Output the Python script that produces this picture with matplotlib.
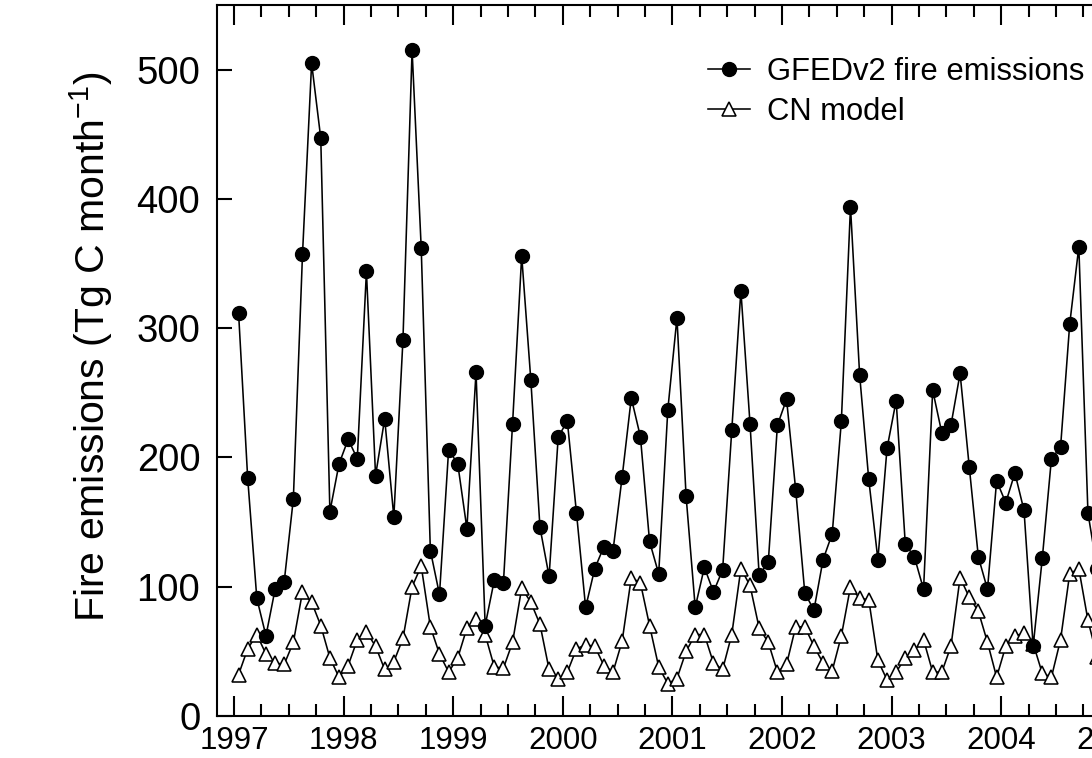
import numpy as np
import matplotlib
matplotlib.use("Agg")
import matplotlib.pyplot as plt
from matplotlib.ticker import MultipleLocator, FixedLocator

plt.rcParams['font.family'] = ['Liberation Sans', 'DejaVu Sans']
plt.rcParams['mathtext.fontset'] = 'custom'
plt.rcParams['mathtext.rm'] = 'Liberation Sans'

# Monthly values, Jan 1997 .. Nov 2004 (Tg C / month)
gfed = [
    312, 184, 91, 62, 98, 104, 168, 357, 505, 447, 158, 195,   # 1997
    214, 199, 344, 186, 230, 154, 291, 515, 362, 128, 94, 206,  # 1998
    195, 145, 266, 70, 105, 103, 226, 356, 260, 146, 108, 216,  # 1999
    228, 157, 84, 114, 131, 128, 185, 246, 216, 135, 110, 237,  # 2000
    308, 170, 84, 115, 96, 113, 221, 329, 226, 109, 119, 225,   # 2001
    245, 175, 95, 82, 121, 141, 228, 394, 264, 183, 121, 207,   # 2002
    244, 133, 123, 98, 252, 219, 225, 265, 193, 123, 98, 182,   # 2003
    165, 188, 159, 54, 122, 199, 208, 303, 363, 157, 114,       # 2004
]
cn_model = [
    32, 52, 63, 48, 41, 40, 57, 96, 88, 70, 45, 30,     # 1997
    39, 59, 65, 54, 36, 42, 60, 100, 116, 69, 48, 34,   # 1998
    45, 68, 75, 63, 38, 37, 57, 99, 88, 71, 36, 29,     # 1999
    34, 52, 55, 54, 39, 34, 58, 107, 103, 70, 38, 25,   # 2000
    29, 50, 63, 63, 41, 36, 63, 114, 101, 68, 57, 34,   # 2001
    40, 69, 69, 54, 41, 35, 62, 100, 91, 90, 43, 28,    # 2002
    34, 45, 51, 59, 34, 34, 54, 107, 92, 81, 57, 30,    # 2003
    54, 62, 64, 56, 33, 30, 59, 110, 114, 74, 46,       # 2004
]
start_year = 1997
year_ticks = [1997, 1998, 1999, 2000, 2001, 2002, 2003, 2004, 2005]
y_ticks = [0, 100, 200, 300, 400, 500]
series_labels = ["GFEDv2 fire emissions", "CN model"]
ylabel = "Fire emissions (Tg C month$^{-1}$)"

months = np.arange(len(gfed))
x = start_year + (months + 0.5) / 12.0

W, H = 1092, 758
fig = plt.figure(figsize=(W / 100, H / 100), dpi=100)
xmin, xmax = 1996.845, 2005.2
px_per_year = 109.6
ax_left, ax_bottom, ax_top = 217, 716, 5
ax = fig.add_axes([ax_left / W, (H - ax_bottom) / H,
                   (xmax - xmin) * px_per_year / W, (ax_bottom - ax_top) / H])

ax.plot(x, cn_model, '-^', color='black', lw=1.15, ms=9.5, mfc='white',
        mec='black', mew=1.15, label=series_labels[1], zorder=2, clip_on=False)
ax.plot(x, gfed, '-o', color='black', lw=1.15, ms=10, mfc='black',
        mec='black', label=series_labels[0], zorder=3, clip_on=False)

ax.set_xlim(xmin, xmax)
ax.set_ylim(0, 550)
ax.xaxis.set_major_locator(FixedLocator(year_ticks))
ax.xaxis.set_minor_locator(MultipleLocator(0.25))
ax.set_xticklabels([str(y) for y in year_ticks])
ax.yaxis.set_major_locator(FixedLocator(y_ticks))

for s in ax.spines.values():
    s.set_linewidth(1.5)

ax.tick_params(axis='x', which='major', direction='in', length=14.5, width=1.5,
               top=True, labelsize=22.5, pad=7)
ax.tick_params(axis='x', which='minor', direction='in', length=8.5, width=1.5,
               top=True)
ax.tick_params(axis='y', which='major', direction='in', length=11, width=1.5,
               labelsize=27.5, pad=12)

ax_w_px = (xmax - xmin) * px_per_year
ax.set_ylabel(ylabel, fontsize=29.5, va='center')
ax.yaxis.set_label_coords((91 - ax_left) / ax_w_px, (ax_bottom - 347) / (ax_bottom - ax_top))

handles, labels = ax.get_legend_handles_labels()
leg = ax.legend(handles[::-1], labels[::-1], loc='upper left',
                bbox_to_anchor=(708 / W, 1 - 57 / H), bbox_transform=fig.transFigure,
                frameon=False, fontsize=22.3, handlelength=1.35, handletextpad=0.55,
                borderpad=0, borderaxespad=0, labelspacing=0.32)

fig.savefig("out.png", dpi=100)
